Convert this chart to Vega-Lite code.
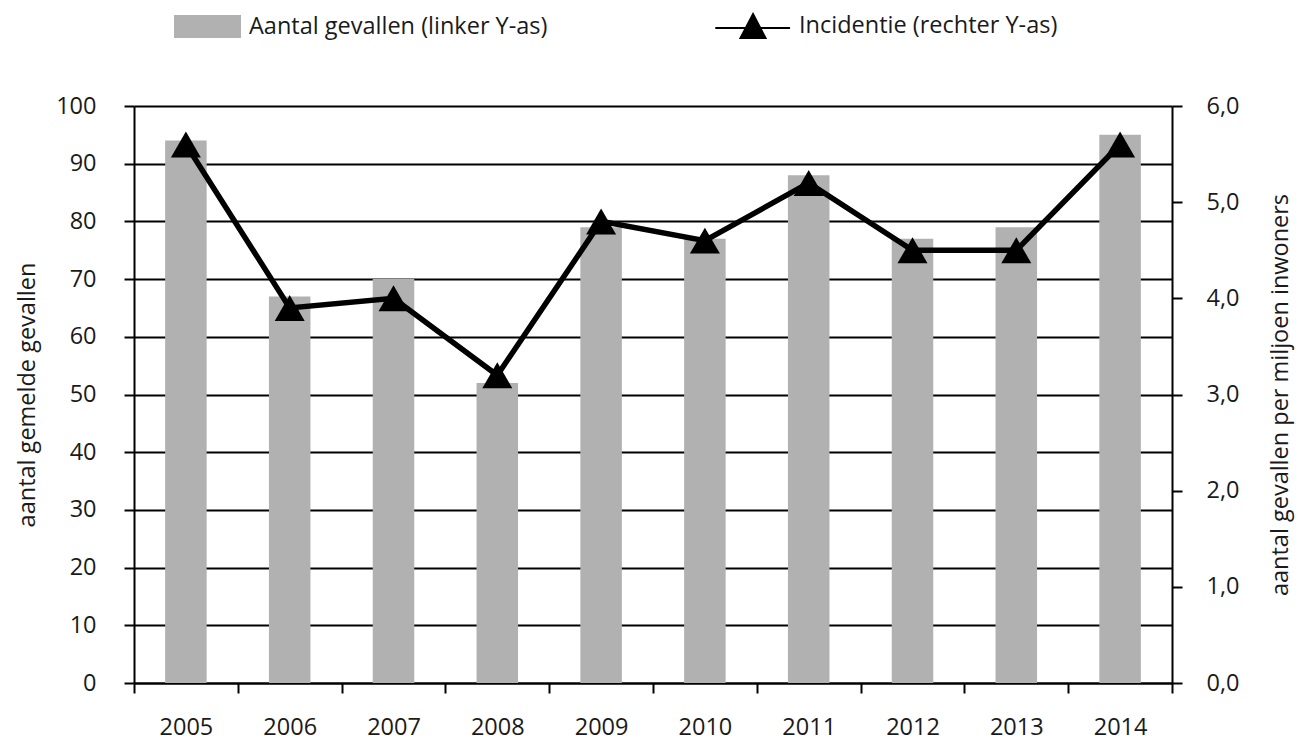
{
  "$schema": "https://vega.github.io/schema/vega-lite/v6.json",
  "width": 1038,
  "height": 577,
  "autosize": {"type": "none"},
  "padding": {"left": 134, "top": 106, "right": 137, "bottom": 57},
  "background": "white",
  "config": {
    "font": "Open Sans",
    "view": {"stroke": null},
    "axis": {
      "labelFont": "Open Sans",
      "titleFont": "Open Sans",
      "labelColor": "#1a1a1a",
      "titleColor": "#1a1a1a",
      "titleFontWeight": "normal",
      "labelFontSize": 23.5,
      "titleFontSize": 23.5,
      "domainColor": "black",
      "domainWidth": 2,
      "tickColor": "black",
      "tickWidth": 2,
      "tickSize": 10,
      "gridColor": "black",
      "gridWidth": 2,
      "gridOpacity": 1
    },
    "legend": {
      "labelFont": "Open Sans",
      "labelFontSize": 23.5,
      "labelColor": "#1a1a1a",
      "labelLimit": 600,
      "padding": 0,
      "offset": 0
    }
  },
  "data": {
    "values": [
      {"jaar": "2005", "aantal": 94, "incidentie": 5.6},
      {"jaar": "2006", "aantal": 67, "incidentie": 3.9},
      {"jaar": "2007", "aantal": 70, "incidentie": 4.0},
      {"jaar": "2008", "aantal": 52, "incidentie": 3.2},
      {"jaar": "2009", "aantal": 79, "incidentie": 4.8},
      {"jaar": "2010", "aantal": 77, "incidentie": 4.6},
      {"jaar": "2011", "aantal": 88, "incidentie": 5.2},
      {"jaar": "2012", "aantal": 77, "incidentie": 4.5},
      {"jaar": "2013", "aantal": 79, "incidentie": 4.5},
      {"jaar": "2014", "aantal": 95, "incidentie": 5.6}
    ]
  },
  "encoding": {
    "x": {
      "field": "jaar",
      "type": "ordinal",
      "scale": {"paddingInner": 0, "paddingOuter": 0},
      "axis": {
        "title": null,
        "labelAngle": 0,
        "tickBand": "extent",
        "labelPadding": 22,
        "grid": false
      }
    }
  },
  "layer": [
    {
      "mark": {"type": "bar", "width": {"band": 0.4}},
      "encoding": {
        "y": {
          "field": "aantal",
          "type": "quantitative",
          "scale": {"domain": [0, 100]},
          "axis": {
            "title": "aantal gemelde gevallen",
            "values": [0, 10, 20, 30, 40, 50, 60, 70, 80, 90, 100],
            "grid": true,
            "labelPadding": 28,
            "titlePadding": 16
          }
        },
        "fill": {
          "datum": "Aantal gevallen (linker Y-as)",
          "type": "nominal",
          "scale": {"range": ["#b0b1b0"]},
          "legend": {
            "title": null,
            "orient": "none",
            "legendX": 40,
            "legendY": -113,
            "symbolType": "M-1,-0.34H1V0.34H-1Z",
            "symbolSize": 4489,
            "symbolStrokeWidth": 0,
            "labelOffset": 8
          }
        }
      }
    },
    {
      "encoding": {
        "y": {
          "field": "incidentie",
          "type": "quantitative",
          "scale": {"domain": [0, 6]},
          "axis": {
            "orient": "right",
            "title": "aantal gevallen per miljoen inwoners",
            "titleAngle": -90,
            "values": [0, 1, 2, 3, 4, 5, 6],
            "labelExpr": "replace(format(datum.value, '.1f'), '.', ',')",
            "grid": false,
            "labelPadding": 24,
            "titlePadding": 54
          }
        }
      },
      "layer": [
        {
          "mark": {"type": "line", "color": "black", "strokeWidth": 5.5}
        },
        {
          "mark": {"type": "point", "filled": true, "shape": "triangle-up", "opacity": 1, "size": 900},
          "encoding": {
            "color": {
              "datum": "Incidentie (rechter Y-as)",
              "type": "nominal",
              "scale": {"range": ["black"]},
              "legend": {
                "title": null,
                "orient": "none",
                "legendX": 605,
                "legendY": -94,
                "symbolType": "M-2.9,0.15H2.85M0,-0.92L0.96,0.92L-0.96,0.92Z",
                "symbolSize": 676,
                "symbolFillColor": "black",
                "symbolStrokeColor": "black",
                "symbolStrokeWidth": 2,
                "labelOffset": 32,
                "encode": {
                  "symbols": {
                    "update": {
                      "fill": {"value": "black"},
                      "stroke": {"value": "black"},
                      "strokeWidth": {"value": 2}
                    }
                  }
                }
              }
            }
          }
        }
      ]
    }
  ],
  "resolve": {"scale": {"y": "independent"}}
}
